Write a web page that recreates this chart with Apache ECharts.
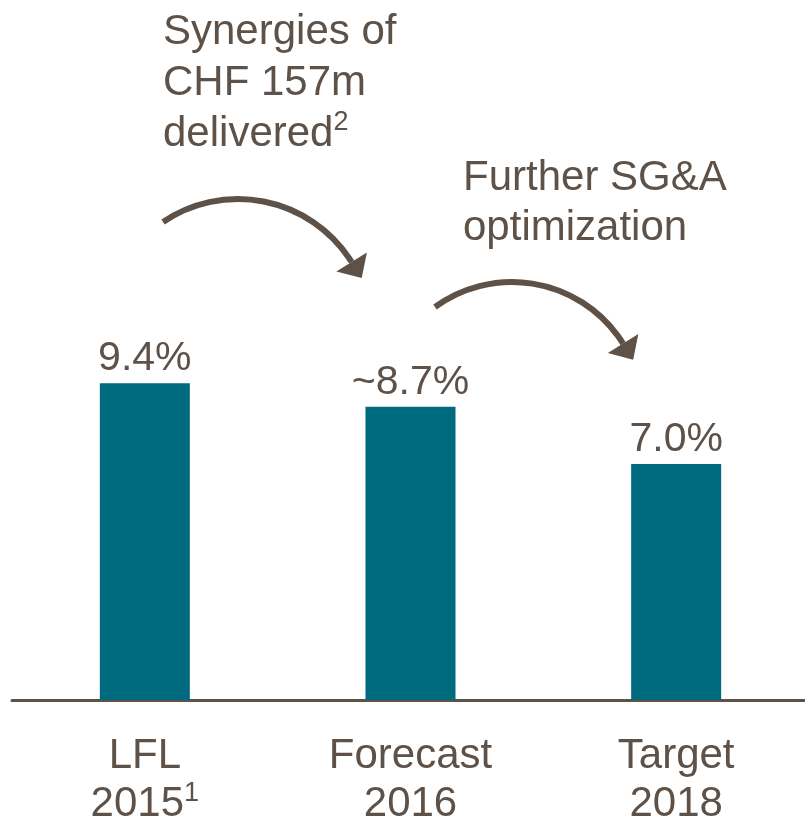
<!DOCTYPE html>
<html>
<head>
<meta charset="utf-8">
<script src="https://cdn.jsdelivr.net/npm/echarts@6/dist/echarts.min.js"></script>
<style>
  html, body { margin: 0; padding: 0; background: #fff; }
  #chart { width: 805px; height: 824px; }
</style>
</head>
<body>
<div id="chart"></div>
<script>
// 数据
var categories = ['LFL\n2015{sup|1}', 'Forecast\n2016', 'Target\n2018'];
var values = [9.4, 8.7, 7.0];
var valueLabels = ['9.4%', '~8.7%', '7.0%'];

var textColor = '#5E5147';
var barColor = '#006A7F';
var font = 'Liberation Sans, Arial, sans-serif';

var myChart = echarts.init(document.getElementById('chart'), null, { renderer: 'canvas' });

// 弧形箭头
function arrow(cx, cy, r, a0, a1) {
  var end = a1 * Math.PI / 180;
  var ex = cx + r * Math.cos(end), ey = cy + r * Math.sin(end);
  var tx = -Math.sin(end), ty = Math.cos(end);   // 切线方向
  var nx = Math.cos(end), ny = Math.sin(end);
  var len = 19, hw = 18;
  return [
    {
      type: 'arc',
      shape: { cx: cx, cy: cy, r: r, startAngle: a0 * Math.PI / 180, endAngle: end, clockwise: true },
      style: { stroke: textColor, lineWidth: 6, fill: null }
    },
    {
      type: 'polygon',
      shape: { points: [[ex + tx * len, ey + ty * len], [ex + nx * hw, ey + ny * hw], [ex - nx * hw, ey - ny * hw]] },
      style: { fill: textColor }
    }
  ];
}

option = {
  animation: false,
  grid: { left: 12, right: -4, top: 363, bottom: 124, outerBoundsMode: 'none' },
  xAxis: {
    type: 'category',
    data: categories,
    axisLine: { lineStyle: { color: textColor, width: 3 } },
    axisTick: { show: false },
    axisLabel: {
      interval: 0,
      color: textColor,
      fontFamily: font,
      fontSize: 42,
      lineHeight: 48,
      margin: 32,
      rich: {
        sup: { fontSize: 27, fontFamily: font, color: textColor, verticalAlign: 'top', lineHeight: 48, padding: [0, 0, 12, 0] }
      }
    }
  },
  yAxis: {
    type: 'value',
    min: 0,
    max: 10,
    show: false,
    splitLine: { show: false }
  },
  series: [
    {
      type: 'bar',
      data: values,
      barWidth: 90,
      itemStyle: { color: barColor },
      label: {
        show: true,
        position: 'top',
        distance: 4,
        color: textColor,
        fontFamily: font,
        fontSize: 41,
        formatter: function (p) { return valueLabels[p.dataIndex]; }
      }
    }
  ],
  graphic: [
    {
      type: 'text',
      left: 163,
      top: 7,
      style: {
        text: 'Synergies of\nCHF 157m\ndelivered{sup|2}',
        fill: textColor,
        font: '42px ' + font,
        lineHeight: 51,
        rich: {
          sup: { fontSize: 27, fontFamily: font, fill: textColor, verticalAlign: 'top', lineHeight: 51, padding: [0, 0, 12, 0] }
        }
      }
    },
    {
      type: 'text',
      left: 463,
      top: 153,
      style: {
        text: 'Further SG&A\noptimization',
        fill: textColor,
        font: '42px ' + font,
        lineHeight: 50
      }
    }
  ].concat(arrow(238, 333, 134, -124, -32)).concat(arrow(512, 413, 131, -126, -32))
};

myChart.setOption(option);
</script>
</body>
</html>
